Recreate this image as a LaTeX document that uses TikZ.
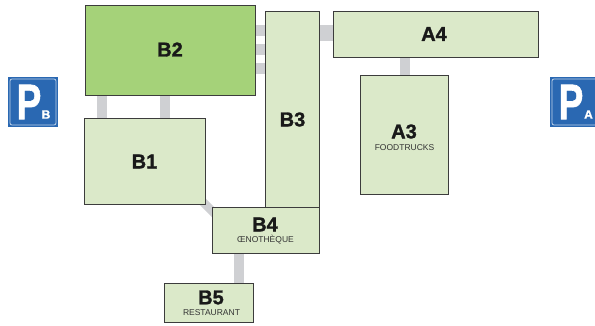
\documentclass[tikz,border=0pt]{standalone}
\usepackage{fontspec}
\setmainfont[BoldFeatures={FakeBold=1.4}]{Liberation Sans}
\usetikzlibrary{backgrounds}
\definecolor{lightgreen}{HTML}{DBE9C9}
\definecolor{midgreen}{HTML}{A5D279}
\definecolor{edgegrey}{HTML}{3C3C3C}
\definecolor{linkgrey}{HTML}{CFD0D3}
\definecolor{signblue}{HTML}{2A68B2}
\tikzset{
  x=1pt,y=-1pt,
  hall/.style={draw=edgegrey,line width=1pt,fill=lightgreen,anchor=north west,inner sep=0pt,outer sep=0pt},
  hallmain/.style={hall,fill=midgreen},
  hallname/.style={font=\fontsize{20}{20}\selectfont\bfseries,text=black!90,inner sep=0pt},
  hallsub/.style={font=\fontsize{8.5}{8.5}\selectfont,text=black!80,inner sep=0pt},
  linkv/.style={draw=linkgrey,line width=10pt},
  signbox/.style={fill=signblue},
  signframe/.style={draw=white!70!signblue,line width=0.8pt,rounded corners=2pt},
  signP/.style={font=\fontsize{50}{50}\selectfont\bfseries,text=white,inner sep=0pt},
  signL/.style={font=\fontsize{12}{12}\selectfont\bfseries,text=white,inner sep=0pt},
}
\begin{document}
\begin{tikzpicture}
\useasboundingbox (0,0) rectangle (595,326);
\clip (0,0) rectangle (595,326);
\node[hallmain,minimum width=170pt,minimum height=90pt] (b2) at (85,5.5) {};
\node[hall,minimum width=121.5pt,minimum height=86pt] (b1) at (84,118.5) {};
\node[hall,minimum width=53.5pt,minimum height=197pt] (b3) at (265.5,11.5) {};
\node[hall,minimum width=205.5pt,minimum height=46pt] (a4) at (333,11.5) {};
\node[hall,minimum width=88pt,minimum height=119pt] (a3) at (360.5,75.5) {};
\node[hall,minimum width=107pt,minimum height=45pt] (b4) at (212,208) {};
\node[hall,minimum width=89pt,minimum height=39pt] (b5) at (164,283) {};
\begin{scope}[on background layer]
\draw[linkv] (102,0 |- b2.south) -- (102,0 |- b1.north);
\draw[linkv] (165,0 |- b2.south) -- (165,0 |- b1.north);
\draw[linkv,line width=11pt] (b2.east |- 0,30.5) -- (b3.west |- 0,30.5);
\draw[linkv,line width=11pt] (b2.east |- 0,49.5) -- (b3.west |- 0,49.5);
\draw[linkv,line width=11pt] (b2.east |- 0,68.5) -- (b3.west |- 0,68.5);
\draw[linkv,line width=16pt] (b3.east |- 0,33) -- (a4.west |- 0,33);
\draw[linkv] (405,0 |- a4.south) -- (405,0 |- a3.north);
\draw[linkv] (239,0 |- b4.south) -- (239,0 |- b5.north);
\draw[linkv,line width=8.5pt] ([xshift=-11pt,yshift=11pt]b1.south east) -- ([xshift=8pt,yshift=-11pt]b4.north west);
\end{scope}
\node[hallname] (l2) at (170,49.5) {B2};
\node[hallname] (l1) at (144.5,161.5) {B1};
\node[hallname] (l3) at (292.5,119.5) {B3};
\node[hallname] (l4) at (434,34) {A4};
\node[hallname] (l5) at (404,131.5) {A3};
\node[hallsub] (s5) at (404.5,147.5) {FOODTRUCKS};
\node[hallname] (l6) at (265,224.5) {B4};
\node[hallsub] (s6) at (265.5,240) {ŒNOTHÈQUE};
\node[hallname] (l7) at (211,297.5) {B5};
\node[hallsub] (s7) at (211.5,312.5) {RESTAURANT};
% parking signs
\fill[signbox] (8,77) rectangle (58,127);
\draw[signframe] (10,79) rectangle (56,125);
\node[signP] (pb) at (29,102) {\scalebox{0.74}[1]{P}};
\node[signL] (lb) at (46,114.5) {B};
\fill[signbox] (550,77) rectangle (600,127);
\draw[signframe] (552,79) rectangle (598,125);
\node[signP] (pa) at (571,102) {\scalebox{0.74}[1]{P}};
\node[signL] (la) at (588.5,114.5) {A};
\end{tikzpicture}
\end{document}
